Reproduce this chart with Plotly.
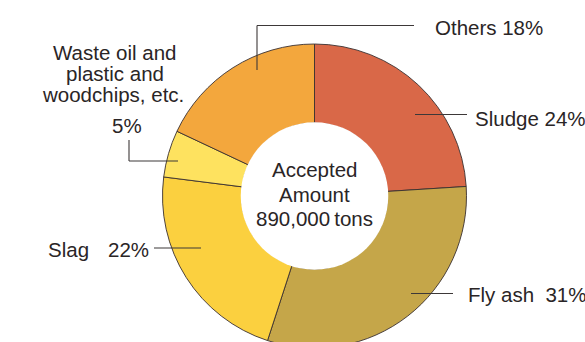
import plotly.graph_objects as go

# Accepted industrial waste by type (share of total, %)
categories = ["Sludge", "Fly ash", "Slag", "Waste oil and plastic and woodchips, etc.", "Others"]
shares = [24, 31, 22, 5, 18]
colors = ["#D96848", "#C5A649", "#FBD03F", "#FEE25F", "#F3A73D"]
total_label = ["Accepted", "Amount", "890,000\u2009tons"]

W, H = 585, 350
FONT = "Liberation Sans, Arial, Helvetica, sans-serif"
INK = "#2a2526"

# donut placement (pixels)
cx, cy, R = 314.5, 196.0, 152.0
HOLE = 0.48


def px(x):
    return x / W


def py(y):
    return 1 - y / H


fig = go.Figure(
    go.Pie(
        labels=categories,
        values=shares,
        sort=False,
        direction="clockwise",
        rotation=0,
        hole=HOLE,
        marker=dict(colors=colors, line=dict(color="#3a3030", width=0.9)),
        textinfo="none",
        hoverinfo="label+percent",
        domain=dict(x=[px(cx - R), px(cx + R)], y=[py(cy + R), py(cy - R)]),
        showlegend=False,
    )
)

# clean white centre over the inner slice edges
r_in = R * HOLE + 0.8
shapes = [
    dict(type="circle", xref="paper", yref="paper",
         x0=px(cx - r_in), x1=px(cx + r_in), y0=py(cy + r_in), y1=py(cy - r_in),
         fillcolor="white", line=dict(width=0)),
]

# leader lines (pixel polylines)
leaders = [
    [(257, 70), (257, 25.5), (414, 25.5)],      # Others
    [(415, 114.5), (467, 114.5)],               # Sludge
    [(411, 293.5), (453, 293.5)],               # Fly ash
    [(154, 248), (201, 248)],                   # Slag
    [(129, 140), (129, 161), (178, 161)],       # Waste oil etc.
]
for pts in leaders:
    for (x0, y0), (x1, y1) in zip(pts[:-1], pts[1:]):
        shapes.append(dict(type="line", xref="paper", yref="paper",
                           x0=px(x0), y0=py(y0), x1=px(x1), y1=py(y1),
                           line=dict(color="#3d3838", width=1.1)))

fs = 20.5
labels = [
    ("Others 18%", 433, 27, "left"),
    ("Sludge 24%", 473, 118, "left"),
    ("Fly ash\u00a0\u00a031%", 466, 294, "left"),
    ("Slag", 46, 249, "left"),
    ("22%", 106, 249, "left"),
    ("Waste oil and", 114.5, 52, "center"),
    ("plastic and", 115, 73.5, "center"),
    ("woodchips, etc.", 112.5, 95, "center"),
    ("5%", 127, 125, "center"),
    (total_label[0], cx, 169.5, "center"),
    (total_label[1], cx, 194, "center"),
    (total_label[2], cx, 218.5, "center"),
]
annotations = [
    dict(text=t, x=px(x), y=py(y), xref="paper", yref="paper",
         xanchor=a, yanchor="middle", showarrow=False,
         font=dict(family=FONT, size=fs, color=INK))
    for t, x, y, a in labels
]

fig.update_layout(
    width=W, height=H,
    margin=dict(l=0, r=0, t=0, b=0),
    paper_bgcolor="white",
    plot_bgcolor="white",
    shapes=shapes,
    annotations=annotations,
)

fig.write_html(
    "out.html",
    post_script="document.body.style.margin='0';document.body.style.overflow='hidden';"
                "document.documentElement.style.overflow='hidden';",
)
